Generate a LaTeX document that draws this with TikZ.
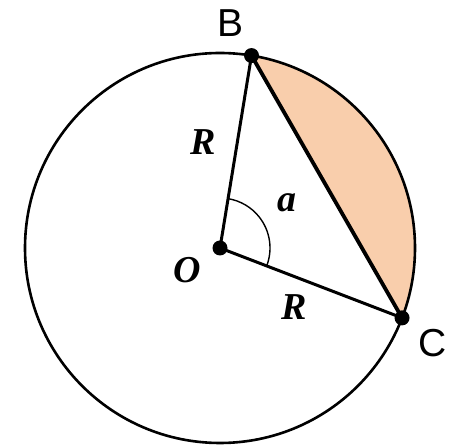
\documentclass[tikz,border=0pt]{standalone}
\usepackage{fontspec}
\setmainfont{Liberation Serif}
\newfontfamily\pointfont{Liberation Sans}
\usetikzlibrary{positioning}
\definecolor{segpeach}{RGB}{249,206,172}

\begin{document}
\begin{tikzpicture}[x=1pt, y=1pt,
    dot/.style={circle, fill=black, inner sep=0pt, minimum size=15pt},
    ptlabel/.style={font=\pointfont\fontsize{39}{39}\selectfont},
    symlabel/.style={font=\fontsize{38}{38}\selectfont\bfseries\itshape}]

\useasboundingbox (0,0) rectangle (464,447);

% centre and the two points on the circle
\coordinate (O) at (220,199);
\coordinate (B) at ([shift={(O)}] 80.7:195);
\coordinate (C) at ([shift={(O)}] -21:195);

% shaded segment between chord and arc
\fill[segpeach] (B) arc[start angle=80.7, end angle=-21, radius=195] -- cycle;

% circle
\draw[line width=2.6pt] (O) circle[radius=195];

% radii and chord
\draw[line width=3pt] (O) -- (B);
\draw[line width=3pt] (O) -- (C);
\draw[line width=3.8pt] (B) -- (C);

% angle mark
\draw[line width=1.4pt] (O) ++(-21:50) arc[start angle=-21, end angle=80.7, radius=50];

% points
\node[dot] (dO) at (O) {};
\node[dot] (dB) at (B) {};
\node[dot] (dC) at (C) {};

% labels
\node[ptlabel] (lB) at (231,424) {B};
\node[ptlabel] (lC) at (433,104) {C};
\node[symlabel] (lO) at (187,177) {O};
\node[symlabel] (lR1) at (203,305) {R};
\node[symlabel] (lR2) at (294,140) {R};
\node[symlabel] (la) at (287,244) {a};

\end{tikzpicture}
\end{document}
